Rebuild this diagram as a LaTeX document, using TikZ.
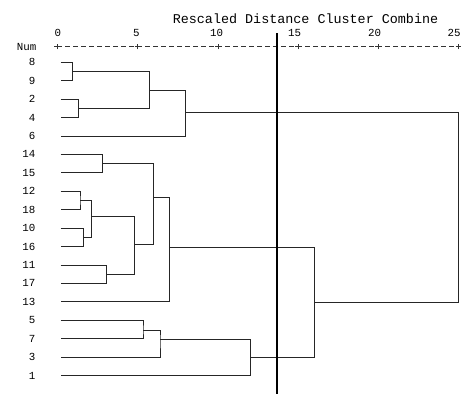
\documentclass[tikz,border=0pt]{standalone}
\usepackage{fontspec}
\setmonofont{Liberation Mono}
\begin{document}
\begin{tikzpicture}[x=1pt,y=-1pt,
  lbl/.style={font=\ttfamily\fontsize{10.8}{12}\selectfont, anchor=east, inner sep=0pt},
  axlbl/.style={font=\ttfamily\fontsize{10.8}{12}\selectfont, inner sep=0pt},
  ttl/.style={font=\ttfamily\fontsize{13.4}{15}\selectfont, inner sep=0pt},
  br/.style={line width=0.8pt, draw=black!85},
  cut/.style={line width=2pt, draw=black},
  axline/.style={line width=0.7pt, draw=black!80, dash pattern=on 5pt off 3pt},
  tick/.style={line width=0.7pt, draw=black!80},
]
\useasboundingbox (0,0) rectangle (461,394);
% title and axis
\node[ttl] (title) at (305.5,19) {Rescaled Distance Cluster Combine};
\node[lbl] (num) at (36.5,46.7) {Num};
\coordinate (ax0) at (57.3,46.7);
\coordinate (ax25) at (458.7,46.7);
\draw[axline] (ax0) -- (ax25);
\foreach \k/\t in {0/0,1/5,2/10,3/15,4/20,5/25}{
  \coordinate (tk\k) at ({57.3+80.28*\k},46.7);
  \draw[tick] ([xshift=-3pt]tk\k) -- ([xshift=3pt]tk\k) ([yshift=-2.7pt]tk\k) -- ([yshift=2.7pt]tk\k);
}
\node[axlbl] (t0) at (57.8,33) {0};
\node[axlbl] (t5) at (136.3,33) {5};
\node[axlbl] (t10) at (216.7,33) {10};
\node[axlbl] (t15) at (294.5,33) {15};
\node[axlbl] (t20) at (374.5,33) {20};
\node[axlbl] (t25) at (454,33) {25};
% leaves
\foreach \l/\i in {8/0,9/1,2/2,4/3,6/4,14/5,15/6,12/7,18/8,10/9,16/10,11/11,17/12,13/13,5/14,7/15,3/16,1/17}{
  \node[lbl] (n\l) at (35.5,{62.3+18.42*\i}) {\l};
  \coordinate (l\l) at (60.7,{62.3+18.42*\i});
}
% joins
\coordinate (j89) at (72.3,71.5);
\coordinate (j24) at (78.3,108.4);
\coordinate (jA) at (149.3,89.9);
\coordinate (jB) at (185.3,112);
\coordinate (j1415) at (102.7,163.8);
\coordinate (j1218) at (80,200.4);
\coordinate (j1016) at (83.7,237);
\coordinate (jC) at (91.3,216.8);
\coordinate (j1117) at (106.7,274.2);
\coordinate (jD) at (134.3,244.3);
\coordinate (jE) at (153.3,197.3);
\coordinate (jF) at (169.7,247.3);
\coordinate (j57) at (143,330.3);
\coordinate (j573) at (160,339.3);
\coordinate (j5731) at (250.7,357.7);
\coordinate (jG) at (314.3,302);
\coordinate (root) at (458.7,207);
\draw[br] (l8) -| (j89) |- (l9);
\draw[br] (l2) -| (j24) |- (l4);
\draw[br] (j89) -| (jA) |- (j24);
\draw[br] (jA) -| (jB) |- (l6);
\draw[br] (l14) -| (j1415) |- (l15);
\draw[br] (l12) -| (j1218) |- (l18);
\draw[br] (l10) -| (j1016) |- (l16);
\draw[br] (j1218) -| (jC) |- (j1016);
\draw[br] (l11) -| (j1117) |- (l17);
\draw[br] (jC) -| (jD) |- (j1117);
\draw[br] (j1415) -| (jE) |- (jD);
\draw[br] (jE) -| (jF) |- (l13);
\draw[br] (l5) -| (j57) |- (l7);
\draw[br] (j57) -| (j573) |- (l3);
\draw[br] (j573) -| (j5731) |- (l1);
\draw[br] (jF) -| (jG) |- (j5731);
\draw[br] (jB) -| (root) |- (jG);
% cut line
\coordinate (cutT) at (277.3,33);
\coordinate (cutB) at (277.3,394);
\draw[cut] (cutT) -- (cutB);
\end{tikzpicture}
\end{document}
